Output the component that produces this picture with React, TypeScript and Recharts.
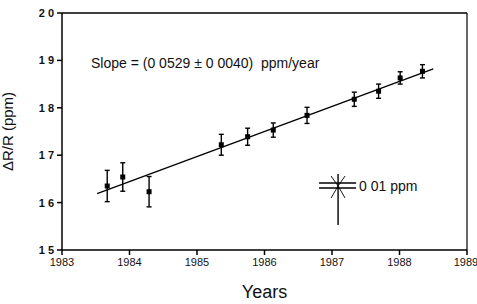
import React from 'react'
import {
  ComposedChart, Scatter, Line, XAxis, YAxis, ErrorBar, ReferenceLine, ReferenceDot,
} from 'recharts'

// measurement epochs (decimal years), ΔR/R values and their uncertainties
const years = [1983.67, 1983.9, 1984.29, 1985.36, 1985.75, 1986.13, 1986.63, 1987.33, 1987.69, 1988.01, 1988.34]
const values = [1.635, 1.654, 1.623, 1.722, 1.739, 1.753, 1.784, 1.818, 1.835, 1.863, 1.877]
const errors = [0.033, 0.03, 0.032, 0.022, 0.018, 0.015, 0.017, 0.015, 0.015, 0.013, 0.014]

// least-squares fit endpoints
const fitYears = [1983.52, 1988.5]
const fitValues = [1.619, 1.882]

const xTicks = [1983, 1984, 1985, 1986, 1987, 1988, 1989]
const yTicks = [1.5, 1.6, 1.7, 1.8, 1.9, 2.0]

const points = years.map((x, i) => ({ x, y: values[i], err: errors[i] }))
const fit = fitYears.map((x, i) => ({ x, y: fitValues[i] }))

const font = '"Liberation Sans", Arial, sans-serif'

const Square = (props: any) => (
  <rect x={props.cx - 2.5} y={props.cy - 2.5} width={5} height={5} fill="#000" />
)

const SlopeText = (props: any) => (
  <text x={props.cx} y={props.cy} dy={5} fontSize={14} fontFamily={font} fill="#111">
    {'Slope = (0 0529 ± 0 0040)\u00a0\u00a0ppm/year'}
  </text>
)

const ScaleMark = (props: any) => {
  const { cx, cy } = props
  return (
    <g stroke="#000" strokeWidth={1.4}>
      <line x1={cx - 19} x2={cx + 18} y1={cy - 3} y2={cy - 3} />
      <line x1={cx - 19} x2={cx + 18} y1={cy + 2} y2={cy + 2} />
      <line x1={cx} x2={cx} y1={cy - 12} y2={cy + 39} />
      <line x1={cx - 7} x2={cx} y1={cy - 10} y2={cy} strokeWidth={0.9} />
      <line x1={cx + 7} x2={cx} y1={cy - 10} y2={cy} strokeWidth={0.9} />
      <line x1={cx - 7} x2={cx} y1={cy + 12} y2={cy} strokeWidth={0.9} />
      <line x1={cx + 7} x2={cx} y1={cy + 12} y2={cy} strokeWidth={0.9} />
      <text x={cx + 21} y={cy + 5} fontSize={14} fontFamily={font} fill="#111" stroke="none">
        0 01 ppm
      </text>
    </g>
  )
}

export default function App() {
  return (
    <div style={{ position: 'absolute', left: 0, top: 0, background: '#fff' }}>
      <ComposedChart
        width={477}
        height={304}
        margin={{ top: 13, right: 10, bottom: 0, left: 0 }}
        style={{ fontFamily: font }}
      >
        <XAxis
          type="number"
          dataKey="x"
          domain={[1983, 1989]}
          ticks={xTicks}
          allowDataOverflow
          height={54}
          stroke="#000"
          strokeWidth={1.5}
          tickSize={5}
          tickMargin={3}
          tick={{ fontSize: 11, fill: '#111', fontFamily: font }}
          label={{ value: 'Years', position: 'insideBottom', offset: 6, fontSize: 18, fill: '#111', fontFamily: font }}
        />
        <YAxis
          type="number"
          dataKey="y"
          domain={[1.5, 2.0]}
          ticks={yTicks}
          width={62}
          stroke="#000"
          strokeWidth={1.5}
          tickSize={5}
          tickMargin={3}
          tickFormatter={(v: number) => v.toFixed(1).replace('.', ' ')}
          tick={{ fontSize: 11, fill: '#111', fontFamily: font, fontWeight: 'bold' }}
          label={{ value: 'ΔR/R (ppm)', angle: -90, position: 'insideLeft', offset: 8, fontSize: 15, fill: '#111', fontFamily: font, style: { textAnchor: 'middle' } }}
        />
        <ReferenceLine y={2.0} stroke="#000" strokeWidth={1.5} />
        <ReferenceLine x={1989} stroke="#000" strokeWidth={1.2} />
        <Line
          data={fit}
          dataKey="y"
          type="linear"
          stroke="#000"
          strokeWidth={1.4}
          dot={false}
          isAnimationActive={false}
        />
        <Scatter data={points} dataKey="y" shape={<Square />} isAnimationActive={false}>
          <ErrorBar dataKey="err" direction="y" width={2.5} stroke="#000" strokeWidth={1.4} />
        </Scatter>
        <ReferenceDot x={1983.43} y={1.894} r={0} shape={<SlopeText />} />
        <ReferenceDot x={1987.09} y={1.635} r={0} shape={<ScaleMark />} />
      </ComposedChart>
    </div>
  )
}
